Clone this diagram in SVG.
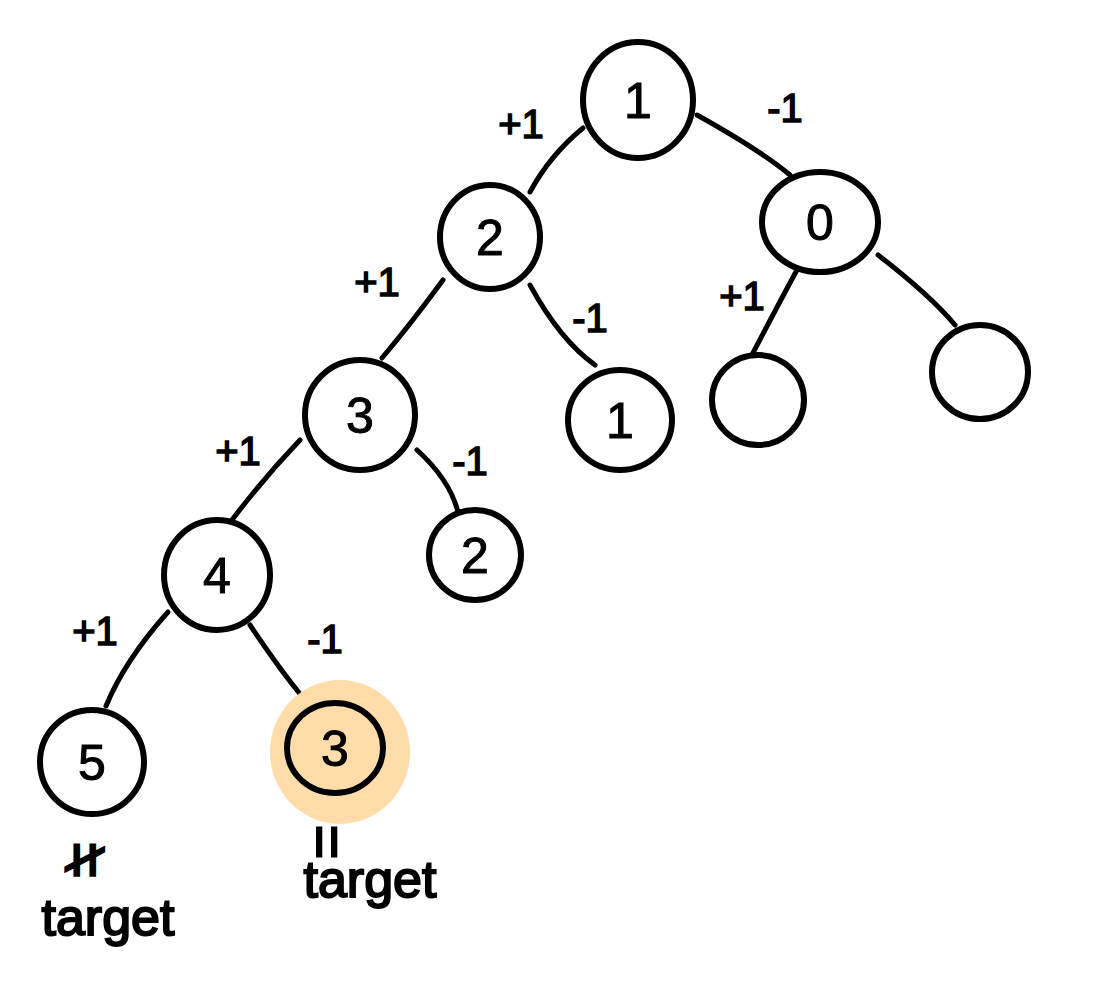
<svg xmlns="http://www.w3.org/2000/svg" width="1103" height="1000" viewBox="0 0 1103 1000">
<style>
.n{fill:none;stroke:#000;stroke-width:6}
.e{fill:none;stroke:#000;stroke-width:5;stroke-linecap:round}
.d{font-family:"Liberation Sans",Arial,sans-serif;font-size:50px;text-anchor:middle;fill:#000;stroke:#000;stroke-width:1}
.l{font-family:"Liberation Sans",Arial,sans-serif;font-size:40px;text-anchor:middle;fill:#000;stroke:#000;stroke-width:1.5}
.t{font-family:"Liberation Sans",Arial,sans-serif;font-size:52px;text-anchor:middle;fill:#000;stroke:#000;stroke-width:2}
</style>
<rect width="1103" height="1000" fill="#fff"/>
<g id="connectors">
<path class="e" d="M583,128 Q550,155 530,192"/>
<path class="e" d="M697,115 Q760,150 790,175"/>
<path class="e" d="M443,280 Q410,325 382,358"/>
<path class="e" d="M530,285 Q560,340 595,365"/>
<path class="e" d="M798,268 Q770,320 752,355"/>
<path class="e" d="M878,255 Q930,295 955,325"/>
<path class="e" d="M300,440 Q262,480 232,520"/>
<path class="e" d="M417,450 Q450,480 458,512"/>
<path class="e" d="M168,612 Q125,660 106,706"/>
<path class="e" d="M250,625 Q280,670 305,700"/>
</g>
<g id="labels">
<text class="l" x="521" y="138">+1</text>
<text class="l" x="785" y="122">-1</text>
<text class="l" x="377" y="296">+1</text>
<text class="l" x="590" y="332">-1</text>
<text class="l" x="742" y="310">+1</text>
<text class="l" x="238" y="465">+1</text>
<text class="l" x="470" y="475">-1</text>
<text class="l" x="95" y="645">+1</text>
<text class="l" x="325" y="653">-1</text>
</g>
<g id="node-1"><ellipse class="n" cx="638" cy="100" rx="55" ry="58"/><text class="d" x="638" y="118">1</text></g>
<g id="node-2"><ellipse class="n" cx="490" cy="237" rx="50" ry="52"/><text class="d" x="490" y="255">2</text></g>
<g id="node-0"><ellipse class="n" cx="820" cy="222" rx="58" ry="50"/><text class="d" x="820" y="240">0</text></g>
<g id="node-3a"><ellipse class="n" cx="360" cy="415" rx="55" ry="55"/><text class="d" x="360" y="433">3</text></g>
<g id="node-1b"><ellipse class="n" cx="620" cy="420" rx="52" ry="50"/><text class="d" x="620" y="438">1</text></g>
<g id="node-e1"><ellipse class="n" cx="758" cy="400" rx="46" ry="45"/></g>
<g id="node-e2"><ellipse class="n" cx="980" cy="372" rx="48" ry="47"/></g>
<g id="node-4"><ellipse class="n" cx="217" cy="575" rx="53" ry="55"/><text class="d" x="217" y="593">4</text></g>
<g id="node-2b"><ellipse class="n" cx="475" cy="555" rx="46" ry="45"/><text class="d" x="475" y="573">2</text></g>
<g id="node-5"><ellipse class="n" cx="92" cy="762" rx="52" ry="52"/><text class="d" x="92" y="780">5</text></g>
<g id="node-3b"><ellipse cx="340" cy="752" rx="70" ry="72" fill="#FFDCAA"/><ellipse class="n" cx="335" cy="748" rx="48" ry="45" fill="#FFC88A"/><text class="d" x="335" y="766">3</text></g>
<g id="notes">
<text class="t" style="font-size:64px" transform="translate(84,860) rotate(90) scale(1,-1)" x="0" y="22">≠</text>
<text class="t" x="108" y="935">target</text>
<text class="t" style="font-size:60px" transform="translate(328,842) rotate(90)" x="0" y="21">=</text>
<text class="t" x="370" y="897">target</text>
</g>
</svg>
